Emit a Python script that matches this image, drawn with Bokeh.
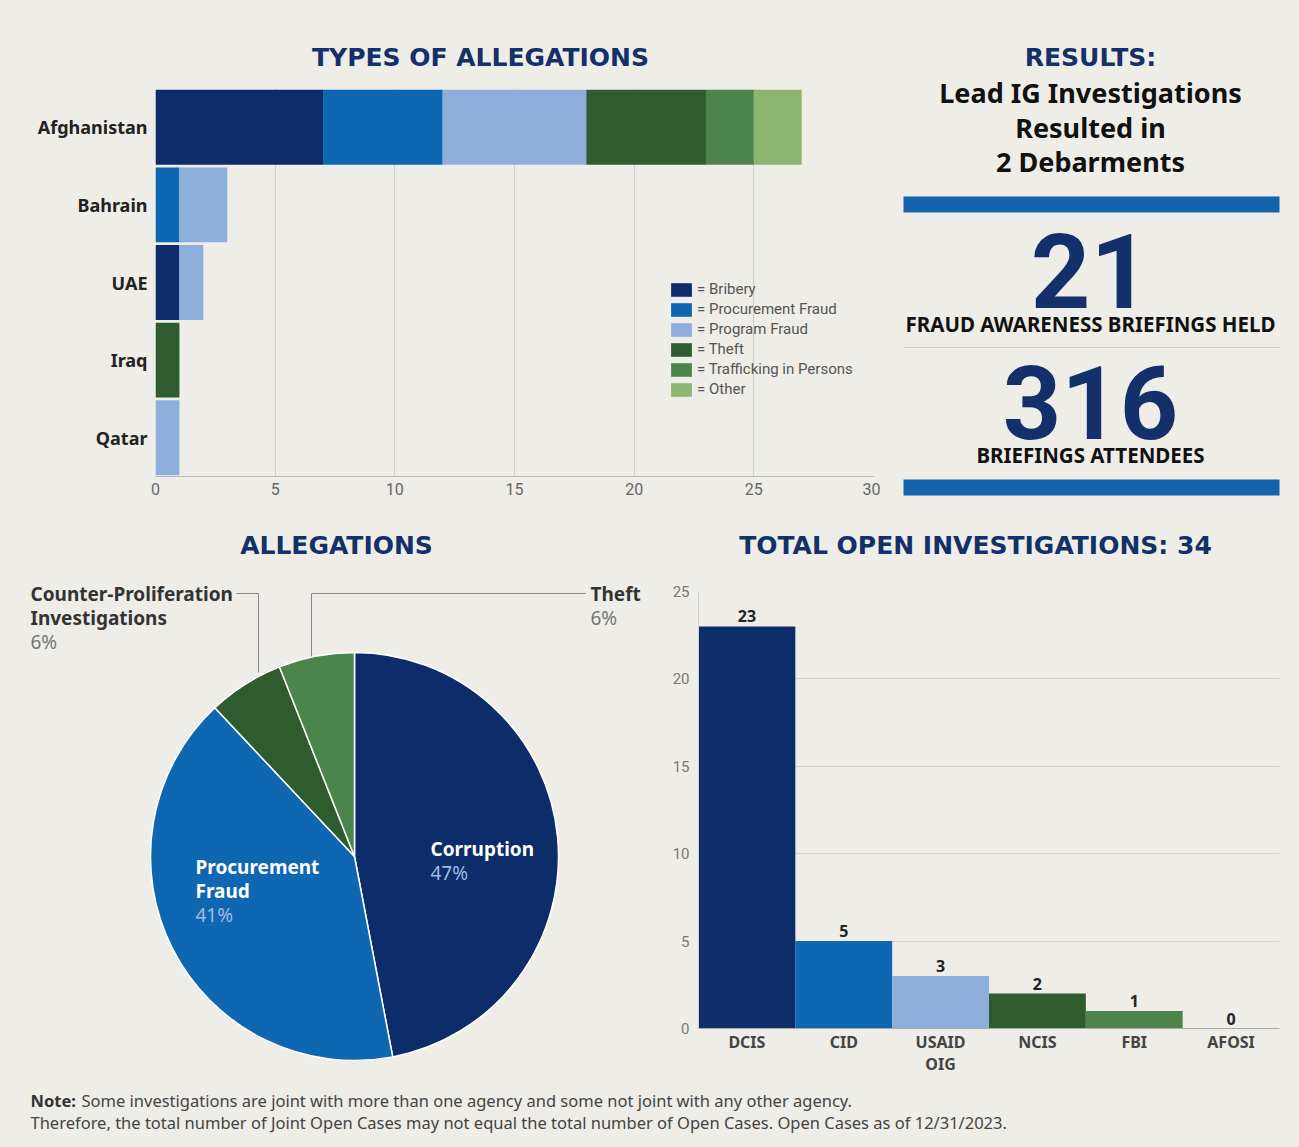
import numpy as np
from bokeh.plotting import figure
from bokeh.models import ColumnDataSource, Range1d, FactorRange, Legend, LegendItem, FixedTicker
from bokeh.layouts import column, row
from bokeh.core.properties import value
from bokeh.embed import file_html
from bokeh.resources import INLINE

# ---------------- data ----------------
countries = ["Afghanistan", "Bahrain", "UAE", "Iraq", "Qatar"]
allegation_types = ["Bribery", "Procurement Fraud", "Program Fraud", "Theft",
                    "Trafficking in Persons", "Other"]
bribery = [7, 0, 1, 0, 0]
procurement_fraud = [5, 1, 0, 0, 0]
program_fraud = [6, 2, 1, 0, 1]
theft = [5, 0, 0, 1, 0]
trafficking = [2, 0, 0, 0, 0]
other = [2, 0, 0, 0, 0]
alleg_x_ticks = [0, 5, 10, 15, 20, 25, 30]

pie_categories = ["Corruption", "Procurement Fraud", "Counter-Proliferation Investigations", "Theft"]
pie_percent = [47, 41, 6, 6]

agencies = ["DCIS", "CID", "USAID OIG", "NCIS", "FBI", "AFOSI"]
open_cases = [23, 5, 3, 2, 1, 0]
open_y_ticks = [0, 5, 10, 15, 20, 25]

debarments = 2
briefings_held = 21
briefing_attendees = 316
total_open = 34

# ---------------- styles ----------------
BG = "#EEEDE7"
NAVY = "#0C2C6A"
BLUE = "#0F67B1"
LIGHT = "#8EAEDC"
DKGREEN = "#2E5C2F"
GREEN = "#4C854B"
LTGREEN = "#8CB570"
TITLE = "#13306A"
stack_colors = [NAVY, BLUE, LIGHT, DKGREEN, GREEN, LTGREEN]
agency_colors = [NAVY, BLUE, LIGHT, DKGREEN, GREEN, LTGREEN]
pie_colors = [NAVY, BLUE, DKGREEN, GREEN]
TITLE_FONT = "DejaVu Sans"
TITLE_SIZE = "25px"
BGSTYLE = {"background-color": BG}


def style_bg(p):
    p.background_fill_color = BG
    p.border_fill_color = BG
    p.outline_line_color = None


def text_fig(x0, x1, y0, y1):
    p = figure(width=x1 - x0, height=y1 - y0, x_range=Range1d(x0, x1), y_range=Range1d(y1, y0),
               x_axis_type=None, y_axis_type=None, min_border=0, frame_align=False,
               toolbar_location=None, output_backend="svg", styles=BGSTYLE)
    p.grid.visible = False
    style_bg(p)
    return p


def txt(p, x, y, s, size, color, font="Noto Sans", style="bold", align="center"):
    p.text(x=[x], y=[y], text=[s], text_font=value(font), text_font_size=size,
           text_font_style=style, text_color=color, text_align=align, text_baseline="middle")


# ---------------- top-left: types of allegations ----------------
tA = text_fig(0, 880, 0, 80)
txt(tA, 480, 57, "TYPES OF ALLEGATIONS", TITLE_SIZE, TITLE, font=TITLE_FONT)

keys = ["bribery", "procurement", "program", "theft", "trafficking", "other"]
srcA = ColumnDataSource(dict(country=countries, bribery=bribery, procurement=procurement_fraud,
                             program=program_fraud, theft=theft, trafficking=trafficking, other=other))
pA = figure(width=880, height=440, x_range=Range1d(0, 30),
            y_range=FactorRange(factors=countries[::-1], range_padding=0),
            min_border_left=155, min_border_right=7, min_border_top=8, min_border_bottom=44,
            frame_align=False, toolbar_location=None, output_backend="svg", styles=BGSTYLE)
style_bg(pA)
rs = pA.hbar_stack(keys, y="country", height=0.965, color=stack_colors, line_color=None, source=srcA)
pA.xaxis.ticker = FixedTicker(ticks=alleg_x_ticks)
pA.xgrid.ticker = FixedTicker(ticks=alleg_x_ticks)
pA.xgrid.grid_line_color = "#CFCFCB"
pA.ygrid.visible = False
pA.xaxis.axis_line_color = "#B8B8B4"
pA.xaxis.major_tick_line_color = None
pA.xaxis.minor_tick_line_color = None
pA.xaxis.major_label_text_font = "Roboto"
pA.xaxis.major_label_text_font_size = "16px"
pA.xaxis.major_label_text_color = "#666666"
pA.xaxis.major_label_standoff = 0
pA.yaxis.axis_line_color = None
pA.yaxis.major_tick_line_color = None
pA.yaxis.minor_tick_line_color = None
pA.yaxis.major_label_text_font = "Noto Sans"
pA.yaxis.major_label_text_font_style = "bold"
pA.yaxis.major_label_text_font_size = "18px"
pA.yaxis.major_label_text_color = "#222222"
pA.yaxis.major_label_standoff = 2
legend = Legend(items=[LegendItem(label="= " + t, renderers=[r]) for t, r in zip(allegation_types, rs)],
                location=(513, 78), label_text_font="Roboto", label_text_font_size="15px",
                label_text_color="#555555", glyph_width=26, glyph_height=17, label_height=17,
                spacing=2, padding=0, margin=0, label_standoff=3,
                background_fill_alpha=0, border_line_color=None)
pA.add_layout(legend)

# ---------------- top-right: results ----------------
pR = text_fig(880, 1299, 0, 520)
txt(pR, 1090, 57, "RESULTS:", TITLE_SIZE, TITLE, font=TITLE_FONT)
txt(pR, 1090, 92, "Lead IG Investigations", "27px", "#111111")
txt(pR, 1090, 127, "Resulted in", "27px", "#111111")
txt(pR, 1090, 161, f"{debarments} Debarments", "27px", "#111111")
pR.quad(left=[903, 903], right=[1279, 1279], top=[196, 479], bottom=[212, 495],
        color="#1463AE", line_color=None)
pR.line([903, 1279], [347, 347], line_color="#CFCFCB", line_width=1)
txt(pR, 1090, 270, str(briefings_held), "104px", TITLE, font="Roboto")
txt(pR, 1090, 323, "FRAUD AWARENESS BRIEFINGS HELD", "20.5px", "#111111")
txt(pR, 1090, 402, str(briefing_attendees), "102px", TITLE, font="Roboto")
txt(pR, 1090, 454, "BRIEFINGS ATTENDEES", "20.5px", "#111111")

# ---------------- bottom-left: pie ----------------
pP = text_fig(0, 650, 520, 1086)
txt(pP, 336, 545, "ALLEGATIONS", TITLE_SIZE, TITLE, font=TITLE_FONT)
frac = np.array(pie_percent, dtype=float) / sum(pie_percent)
cum = np.cumsum(frac)
srcP = ColumnDataSource(dict(start=np.pi / 2 - cum * 2 * np.pi,
                             end=np.pi / 2 - (cum - frac) * 2 * np.pi,
                             color=pie_colors, cat=pie_categories))
pP.wedge(x=354, y=856, radius=204, start_angle="start", end_angle="end", direction="anticlock",
         fill_color="color", line_color="white", line_width=1.5, source=srcP)
# labels
txt(pP, 430, 848, pie_categories[0], "19px", "white", align="left")
txt(pP, 430, 872, f"{pie_percent[0]}%", "19px", "#9FBCE3", style="normal", align="left")
txt(pP, 195, 866, "Procurement", "19px", "white", align="left")
txt(pP, 195, 890, "Fraud", "19px", "white", align="left")
txt(pP, 195, 914, f"{pie_percent[1]}%", "19px", "#9FBCE3", style="normal", align="left")
txt(pP, 30, 593, "Counter-Proliferation", "19px", "#333333", align="left")
txt(pP, 30, 617, "Investigations", "19px", "#333333", align="left")
txt(pP, 30, 641, f"{pie_percent[2]}%", "19px", "#777777", style="normal", align="left")
txt(pP, 590, 593, pie_categories[3], "19px", "#333333", align="left")
txt(pP, 590, 617, f"{pie_percent[3]}%", "19px", "#777777", style="normal", align="left")
pP.line([236, 258, 258], [593, 593, 672], line_color="#8A8A8A", line_width=1)
pP.line([585, 311, 311], [593, 593, 656], line_color="#8A8A8A", line_width=1)

# ---------------- bottom-right: open investigations ----------------
tD = text_fig(650, 1299, 520, 575)
txt(tD, 975, 545, f"TOTAL OPEN INVESTIGATIONS: {total_open}", TITLE_SIZE, TITLE, font=TITLE_FONT)

agency_factors = [a.replace(" ", "\n") for a in agencies]
srcD = ColumnDataSource(dict(agency=agency_factors, cases=open_cases, color=agency_colors,
                             label=[str(v) for v in open_cases]))
pD = figure(width=649, height=511, x_range=FactorRange(factors=agency_factors, range_padding=0),
            y_range=Range1d(0, 25),
            min_border_left=48, min_border_right=20, min_border_top=16, min_border_bottom=58,
            frame_align=False, toolbar_location=None, output_backend="svg", styles=BGSTYLE)
style_bg(pD)
pD.vbar(x="agency", top="cases", width=1.0, color="color", line_color=None, source=srcD)
pD.text(x="agency", y="cases", text="label", y_offset=-4, text_align="center", text_baseline="bottom",
        text_font=value("Noto Sans"), text_font_style="bold", text_font_size="16px",
        text_color="#222222", source=srcD)
pD.yaxis.ticker = FixedTicker(ticks=open_y_ticks)
pD.ygrid.ticker = FixedTicker(ticks=open_y_ticks)
pD.ygrid.grid_line_color = "#D3D3CF"
pD.xgrid.visible = False
pD.yaxis.axis_line_color = "#D3D3CF"
pD.yaxis.major_tick_line_color = None
pD.yaxis.minor_tick_line_color = None
pD.yaxis.major_label_text_font = "Roboto"
pD.yaxis.major_label_text_font_size = "15px"
pD.yaxis.major_label_text_color = "#777777"
pD.yaxis.major_label_standoff = 3
pD.xaxis.axis_line_color = "#A8A8A4"
pD.xaxis.major_tick_line_color = None
pD.xaxis.major_label_text_font = "Noto Sans"
pD.xaxis.major_label_text_font_style = "bold"
pD.xaxis.major_label_text_font_size = "16px"
pD.xaxis.major_label_text_line_height = 1.0
pD.xaxis.major_label_standoff = -4

# ---------------- note ----------------
pN = text_fig(0, 1299, 1086, 1147)
txt(pN, 30, 1100, "Note:", "16.5px", "#333333", align="left")
txt(pN, 81, 1100, "Some investigations are joint with more than one agency and some not joint with any other agency.",
    "16.5px", "#444444", style="normal", align="left")
txt(pN, 30, 1122, "Therefore, the total number of Joint Open Cases may not equal the total number of Open Cases. "
    "Open Cases as of 12/31/2023.", "16.5px", "#444444", style="normal", align="left")

layout = column(row(column(tA, pA, styles=BGSTYLE), pR, styles=BGSTYLE),
                row(pP, column(tD, pD, styles=BGSTYLE), styles=BGSTYLE),
                pN, styles=BGSTYLE)
open("out.html", "w").write(file_html(layout, INLINE))
